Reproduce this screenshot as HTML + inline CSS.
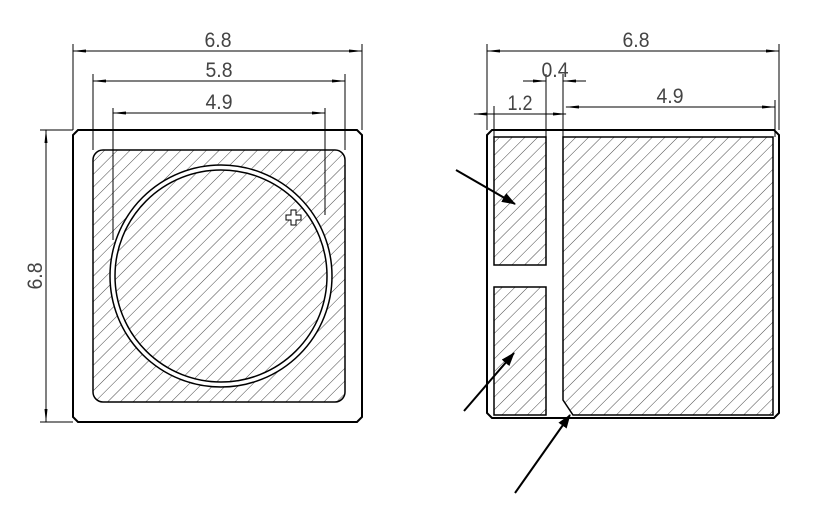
<!DOCTYPE html>
<html><head><meta charset="utf-8"><style>body{margin:0;background:#fff}svg{display:block}</style></head><body>
<svg width="827" height="507" viewBox="0 0 827 507" xmlns="http://www.w3.org/2000/svg">
<defs>
<pattern id="h" width="9" height="9" patternUnits="userSpaceOnUse" patternTransform="rotate(45)">
<line x1="0" y1="0" x2="0" y2="9" stroke="#333" stroke-width="0.9"/></pattern>
<marker id="a" markerWidth="14" markerHeight="6" refX="13" refY="3" orient="auto" markerUnits="userSpaceOnUse"><path d="M0,1.5 L14,3 L0,4.5z" fill="#000"/></marker>
<marker id="b" markerWidth="14" markerHeight="6" refX="1" refY="3" orient="auto" markerUnits="userSpaceOnUse"><path d="M14,1.5 L0,3 L14,4.5z" fill="#000"/></marker>
<marker id="L" markerWidth="14" markerHeight="12" refX="13" refY="6" orient="auto" markerUnits="userSpaceOnUse"><path d="M0,1 L14,6 L0,11z" fill="#000"/></marker>
</defs>
<g stroke="#000" fill="none" stroke-width="1">
<path d="M78,130 H357 L362,135 V417 L357,422 H78 L73,417 V135 Z" stroke-width="2"/>
<rect x="93" y="150" width="252" height="252" rx="10" fill="url(#h)" stroke-width="1.5"/>
<circle cx="221" cy="276" r="111" fill="#fff" stroke-width="1.5"/>
<circle cx="221" cy="276" r="106" fill="url(#h)" stroke-width="1.5"/>
<path d="M286,215 h5 v-5 h5 v5 h5 v5 h-5 v5 h-5 v-5 h-5z" fill="#fff"/>
<line x1="73" y1="44" x2="73" y2="130"/><line x1="362" y1="44" x2="362" y2="130"/>
<line x1="73" y1="51" x2="362" y2="51" marker-start="url(#b)" marker-end="url(#a)"/>
<line x1="93" y1="74" x2="93" y2="150"/><line x1="345" y1="74" x2="345" y2="150"/>
<line x1="93" y1="81" x2="345" y2="81" marker-start="url(#b)" marker-end="url(#a)"/>
<line x1="113" y1="108" x2="113" y2="240"/><line x1="325" y1="108" x2="325" y2="215"/>
<line x1="113" y1="113" x2="325" y2="113" marker-start="url(#b)" marker-end="url(#a)"/>
<line x1="40" y1="130" x2="73" y2="130"/><line x1="40" y1="422" x2="73" y2="422"/>
<line x1="46" y1="130" x2="46" y2="422" marker-start="url(#b)" marker-end="url(#a)"/>
<path d="M492,130 H774 L779,135 V413 L774,418 H492 L487,413 V135 Z" stroke-width="2"/>
<rect x="494" y="137" width="52" height="128" fill="url(#h)" stroke-width="1.5"/>
<rect x="494" y="287" width="52" height="128" fill="url(#h)" stroke-width="1.5"/>
<path d="M563,137 H773 V415 H573 L563,400 Z" fill="url(#h)" stroke-width="1.5"/>
<line x1="487" y1="44" x2="487" y2="130"/><line x1="779" y1="44" x2="779" y2="130"/>
<line x1="487" y1="51" x2="779" y2="51" marker-start="url(#b)" marker-end="url(#a)"/>
<line x1="546" y1="74" x2="546" y2="137"/><line x1="563" y1="74" x2="563" y2="400"/>
<line x1="523" y1="81" x2="546" y2="81" marker-end="url(#a)"/><line x1="586" y1="81" x2="563" y2="81" marker-end="url(#a)"/>
<line x1="494" y1="106" x2="494" y2="137"/>
<line x1="474" y1="114" x2="566" y2="114" marker-start="url(#b)" marker-end="url(#a)"/>
<line x1="775" y1="100" x2="775" y2="137"/>
<line x1="566" y1="107" x2="775" y2="107" marker-start="url(#b)" marker-end="url(#a)"/>
<line x1="456" y1="170" x2="515" y2="204" stroke-width="2" marker-end="url(#L)"/>
<line x1="464" y1="411" x2="514" y2="353" stroke-width="2" marker-end="url(#L)"/>
<line x1="515" y1="493" x2="570" y2="415" stroke-width="2" marker-end="url(#L)"/>
</g>
<g font-family="Liberation Sans, sans-serif" font-size="21" fill="#444" text-anchor="middle" lengthAdjust="spacingAndGlyphs">
<text x="218" y="47" textLength="27" lengthAdjust="spacingAndGlyphs">6.8</text>
<text x="219" y="77" textLength="27" lengthAdjust="spacingAndGlyphs">5.8</text>
<text x="219" y="109" textLength="27" lengthAdjust="spacingAndGlyphs">4.9</text>
<text x="0" y="0" textLength="27" lengthAdjust="spacingAndGlyphs" transform="translate(42,276) rotate(-90)">6.8</text>
<text x="636" y="47" textLength="27" lengthAdjust="spacingAndGlyphs">6.8</text>
<text x="555" y="77" textLength="27" lengthAdjust="spacingAndGlyphs">0.4</text>
<text x="520" y="110" textLength="25" lengthAdjust="spacingAndGlyphs">1.2</text>
<text x="670" y="103" textLength="27" lengthAdjust="spacingAndGlyphs">4.9</text>
</g>
</svg>
</body></html>
